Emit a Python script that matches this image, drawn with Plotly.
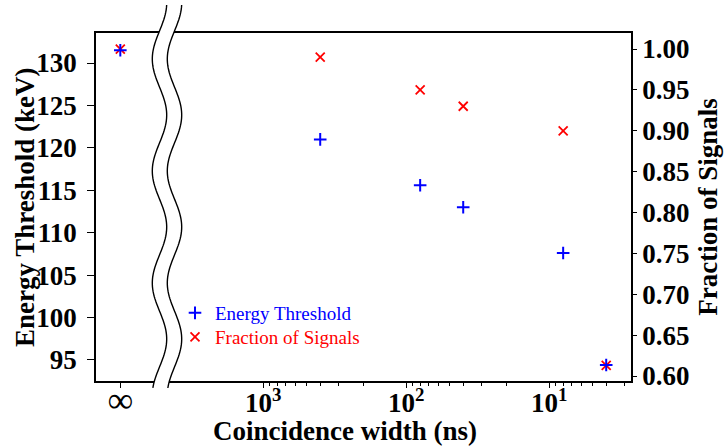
import numpy as np
import plotly.graph_objects as go

# ---------------- data ----------------
coincidence_width_ns = ["inf", 400, 80, 40, 8, 4]      # "inf" = no coincidence cut
energy_threshold_kev = [131.5, 121.0, 115.6, 113.0, 107.6, 94.4]
fraction_of_signals = [1.00, 0.99, 0.95, 0.93, 0.90, 0.613]

x_tick_vals = ["inf", 1000, 100, 10]
x_tick_text = ['<span style="font-size:36px;font-weight:normal">∞</span>',
               "10<sup>3</sup>", "10<sup>2</sup>", "10<sup>1</sup>"]
x_minor_vals = [3, 4, 5, 6, 7, 8, 9, 20, 30, 40, 50, 60, 70, 80, 90,
                200, 300, 400, 500, 600, 700, 800, 900]
energy_ticks = [95, 100, 105, 110, 115, 120, 125, 130]
fraction_ticks = [0.60, 0.65, 0.70, 0.75, 0.80, 0.85, 0.90, 0.95, 1.00]

INF_POS = 1e4  # where the "infinite" width is drawn on the log axis


def xpos(v):
    return INF_POS if v == "inf" else v


xs = [xpos(v) for v in coincidence_width_ns]

# ---------------- layout geometry ----------------
W, H = 725, 446
ML, MR, MT, MB = 96, 94, 33, 65
PW, PH = W - ML - MR, H - MT - MB
FONT = "Liberation Serif, Times New Roman, serif"


def px2paper(x, y):
    return (x - ML) / PW, (H - MB - y) / PH


fig = go.Figure()

fig.add_trace(go.Scatter(
    x=xs, y=energy_threshold_kev, mode="markers", yaxis="y2",
    name='<span style="color:#0000ff">Energy Threshold</span>',
    legend="legend",
    marker=dict(symbol="cross-thin", size=9, color="#0000ff",
                line=dict(color="#0000ff", width=2)),
    cliponaxis=False,
))
fig.add_trace(go.Scatter(
    x=xs, y=fraction_of_signals, mode="markers", yaxis="y",
    name='<span style="color:#ff0000">Fraction of Signals</span>',
    legend="legend2",
    marker=dict(symbol="x-thin", size=9, color="#ff0000",
                line=dict(color="#ff0000", width=1.8)),
    cliponaxis=False,
))

tickfont = dict(family=FONT, size=27, color="black", weight="bold")
titlefont = dict(family=FONT, size=27, color="black", weight="bold")
legfont = dict(family=FONT, size=19, color="black")


def legend_at(text_x, center_y):
    lx, _ = px2paper(text_x - 40, 0)
    _, ly = px2paper(0, center_y)
    return dict(x=lx, y=ly, xanchor="left", yanchor="middle",
                bgcolor="rgba(0,0,0,0)", borderwidth=0, font=legfont)


fig.update_layout(
    width=W, height=H,
    margin=dict(l=ML, r=MR, t=MT, b=MB, autoexpand=False),
    paper_bgcolor="white", plot_bgcolor="white",
    showlegend=True,
    legend=legend_at(215, 313),
    legend2=legend_at(215, 337),
    xaxis=dict(
        type="log", range=[4.170, 0.4287],
        tickmode="array", tickvals=[xpos(v) for v in x_tick_vals],
        ticktext=x_tick_text, tickfont=tickfont, ticklabelstandoff=-8,
        ticks="outside", ticklen=5, tickwidth=1.3, tickcolor="black",
        minor=dict(tickmode="array", tickvals=x_minor_vals, ticks="outside",
                   ticklen=3, tickwidth=1, tickcolor="black", showgrid=False),
        showline=True, linecolor="black", linewidth=1.6, mirror=True,
        showgrid=False, zeroline=False,
    ),
    yaxis=dict(
        side="right", range=[0.5939, 1.0196],
        tickmode="array", tickvals=fraction_ticks,
        ticktext=[f"{v:.2f}" for v in fraction_ticks], tickfont=tickfont,
        ticks="outside", ticklen=4, tickwidth=1.3, tickcolor="black",
        showline=True, linecolor="black", linewidth=1.6,
        showgrid=False, zeroline=False,
        title=dict(text="Fraction of Signals", font=titlefont, standoff=10),
    ),
    yaxis2=dict(
        side="left", overlaying="y", range=[92.52, 133.54],
        tickmode="array", tickvals=energy_ticks,
        ticktext=[str(v) for v in energy_ticks], tickfont=tickfont,
        ticklabelstandoff=5,
        ticks="outside", ticklen=7, tickwidth=1.3, tickcolor="black",
        showline=True, linecolor="black", linewidth=1.6,
        showgrid=False, zeroline=False,
    ),
)

# left y-axis title
lx, ly = px2paper(25, 207)
fig.add_annotation(x=lx, y=ly, xref="paper", yref="paper",
                   text="Energy Threshold (keV)", showarrow=False,
                   textangle=-90, font=titlefont,
                   xanchor="center", yanchor="middle")

# x-axis title (centred as in the original, slightly left of plot centre)
tx, ty = px2paper(345, 431)
fig.add_annotation(x=tx, y=ty, xref="paper", yref="paper",
                   text="Coincidence width (ns)", showarrow=False,
                   font=titlefont, xanchor="center", yanchor="middle")

# ---------------- axis-break decoration (wavy white band) ----------------
yy = np.linspace(5, 388, 160)
left = 159.5 - 7.2 * np.cos(2 * np.pi * (yy - 59) / 112)
right = left + 15.0


def path_from(xs_px, ys_px, close=False):
    pts = [px2paper(a, b) for a, b in zip(xs_px, ys_px)]
    d = "M " + " L ".join(f"{a:.5f},{b:.5f}" for a, b in pts)
    return d + (" Z" if close else "")


band = path_from(np.concatenate([left, right[::-1]]),
                 np.concatenate([yy, yy[::-1]]), close=True)
fig.add_shape(type="path", path=band, xref="paper", yref="paper",
              fillcolor="white", line=dict(width=0), layer="above")
for edge in (left, right):
    fig.add_shape(type="path", path=path_from(edge, yy), xref="paper",
                  yref="paper", line=dict(color="black", width=1.4),
                  layer="above")

fig.write_html("out.html",
               config={"displayModeBar": False},
               post_script="document.body.style.margin='0';"
                           "document.body.style.padding='0';")
